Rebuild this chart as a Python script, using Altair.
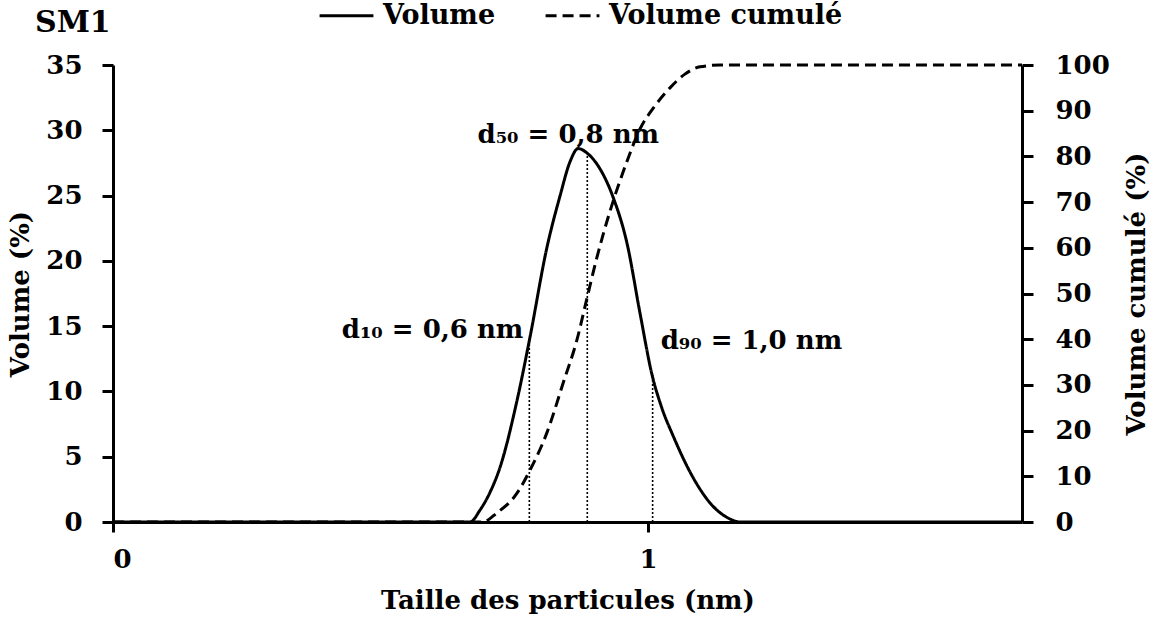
import altair as alt
import pandas as pd

# Particle size distribution of sample SM1 (log-scaled size axis)
vol_size = [0.1, 0.465, 0.485, 0.507, 0.529, 0.569, 0.602, 0.647, 0.685, 0.715,
            0.740, 0.772, 0.806, 0.860, 0.914, 0.966, 1.017, 1.062, 1.114, 1.214,
            1.323, 1.405, 1.486, 5.0]
vol_pct = [0, 0, 0.9, 2.3, 4.2, 9.3, 14.2, 21.0, 25.0, 27.6,
           28.6, 28.2, 27.3, 24.9, 21.3, 16.0, 11.3, 8.7, 6.6, 3.4,
           1.2, 0.35, 0, 0]

cum_size = [0.1, 0.491, 0.522, 0.569, 0.602, 0.647, 0.694, 0.737, 0.769, 0.803,
            0.849, 0.914, 0.966, 1.022, 1.099, 1.172, 1.251, 1.363, 5.0]
cum_pct = [0, 0, 2.0, 6.3, 11.4, 19.5, 30.4, 40.0, 49.0, 58.0,
           68.0, 79.0, 86.0, 90.5, 95.0, 98.0, 99.6, 100, 100]

# Characteristic diameters d10 / d50 / d90 and distribution height there
d_names = ["10", "50", "90"]
d_size = [0.6, 0.77, 1.02]
d_height = [14.0, 28.2, 11.1]

series_names = ["Volume", "Volume cumulé"]

FONT = "DejaVu Serif"
SUB = str.maketrans("0123456789", "₀₁₂₃₄₅₆₇₈₉")

vol_df = pd.DataFrame({"size": vol_size, "pct": vol_pct, "series": series_names[0]})
cum_df = pd.DataFrame({"size": cum_size, "pct": cum_pct, "series": series_names[1]})
d_df = pd.DataFrame({
    "size": d_size,
    "h": d_height,
    "base": [0] * len(d_size),
    "label": [f"d{n.translate(SUB)} = " + f"{s:.1f}".replace(".", ",") + " nm"
              for n, s in zip(d_names, d_size)],
})

x_scale = alt.Scale(type="log", domain=[0.1, 5], nice=False)
x_axis = alt.Axis(values=[0.1, 1], format=".0f", title="Taille des particules (nm)",
                  tickSize=10, labelPadding=14, titlePadding=15)

dash_scale = alt.Scale(domain=series_names, range=[[1, 0], [11, 6]])
legend = alt.Legend(
    title=None, orient="none", legendX=205, legendY=-78, direction="horizontal",
    symbolType="stroke", symbolSize=2900, symbolStrokeWidth=3,
    symbolStrokeColor="black", labelFont=FONT, labelFontSize=27,
    labelFontWeight="bold", labelColor="black", labelOffset=8, columnPadding=43,
    labelLimit=400,
)

X = alt.X("size:Q", scale=x_scale, axis=x_axis)
y_left = alt.Y(
    "pct:Q",
    scale=alt.Scale(domain=[0, 35], nice=False),
    axis=alt.Axis(orient="left", values=list(range(0, 36, 5)), title="Volume (%)",
                  tickSize=11, labelPadding=20, titlePadding=12),
)

vol_line = alt.Chart(vol_df).mark_line(
    color="black", strokeWidth=3, interpolate="monotone"
).encode(
    x=X, y=y_left,
    strokeDash=alt.StrokeDash("series:N", scale=dash_scale, legend=legend),
)

d_rules = alt.Chart(d_df).mark_rule(
    color="black", strokeWidth=1.6, strokeDash=[2, 2]
).encode(
    x=alt.X("size:Q", scale=x_scale, axis=x_axis),
    y=alt.Y("base:Q"),
    y2="h:Q",
)

text_style = dict(font=FONT, fontSize=26, fontWeight="bold", color="black",
                  baseline="alphabetic")
label_specs = [
    dict(align="right", dx=-6, dy=-1),
    dict(align="center", dx=-19, dy=-11),
    dict(align="left", dx=8, dy=-28),
]
d_texts = [
    alt.Chart(d_df.iloc[[i]]).mark_text(**text_style, **spec).encode(
        x=alt.X("size:Q", scale=x_scale, axis=x_axis),
        y=alt.Y("h:Q"),
        text="label:N",
    )
    for i, spec in enumerate(label_specs)
]

left = alt.layer(vol_line, d_rules, *d_texts)

cum_line = alt.Chart(cum_df).mark_line(
    color="black", strokeWidth=3, interpolate="monotone"
).encode(
    x=X,
    y=alt.Y(
        "pct:Q",
        scale=alt.Scale(domain=[0, 100], nice=False),
        axis=alt.Axis(orient="right", values=list(range(0, 101, 10)),
                      title="Volume cumulé (%)", titleAngle=270,
                      titleBaseline="top", tickSize=11, labelPadding=22,
                      titlePadding=14),
    ),
    strokeDash=alt.StrokeDash("series:N", scale=dash_scale, legend=legend),
)

chart = alt.layer(left, cum_line).resolve_scale(y="independent").properties(
    width=909,
    height=457,
    autosize=alt.AutoSizeParams(type="none"),
    padding={"left": 113, "top": 65, "right": 134, "bottom": 101},
    title=alt.Title("SM1", anchor="start", frame="group", dx=-78, dy=65, font=FONT,
                    fontSize=30, fontWeight="bold", color="black", offset=14),
).configure(
    background="white"
).configure_axis(
    labelFont=FONT, labelFontSize=26, labelFontWeight="bold", labelColor="black",
    titleFont=FONT, titleFontSize=26, titleFontWeight="bold", titleColor="black",
    domainColor="black", domainWidth=3, tickColor="black", tickWidth=3, grid=False,
).configure_view(stroke=None)

chart.save("out.html", embed_options={"renderer": "svg", "actions": False})
